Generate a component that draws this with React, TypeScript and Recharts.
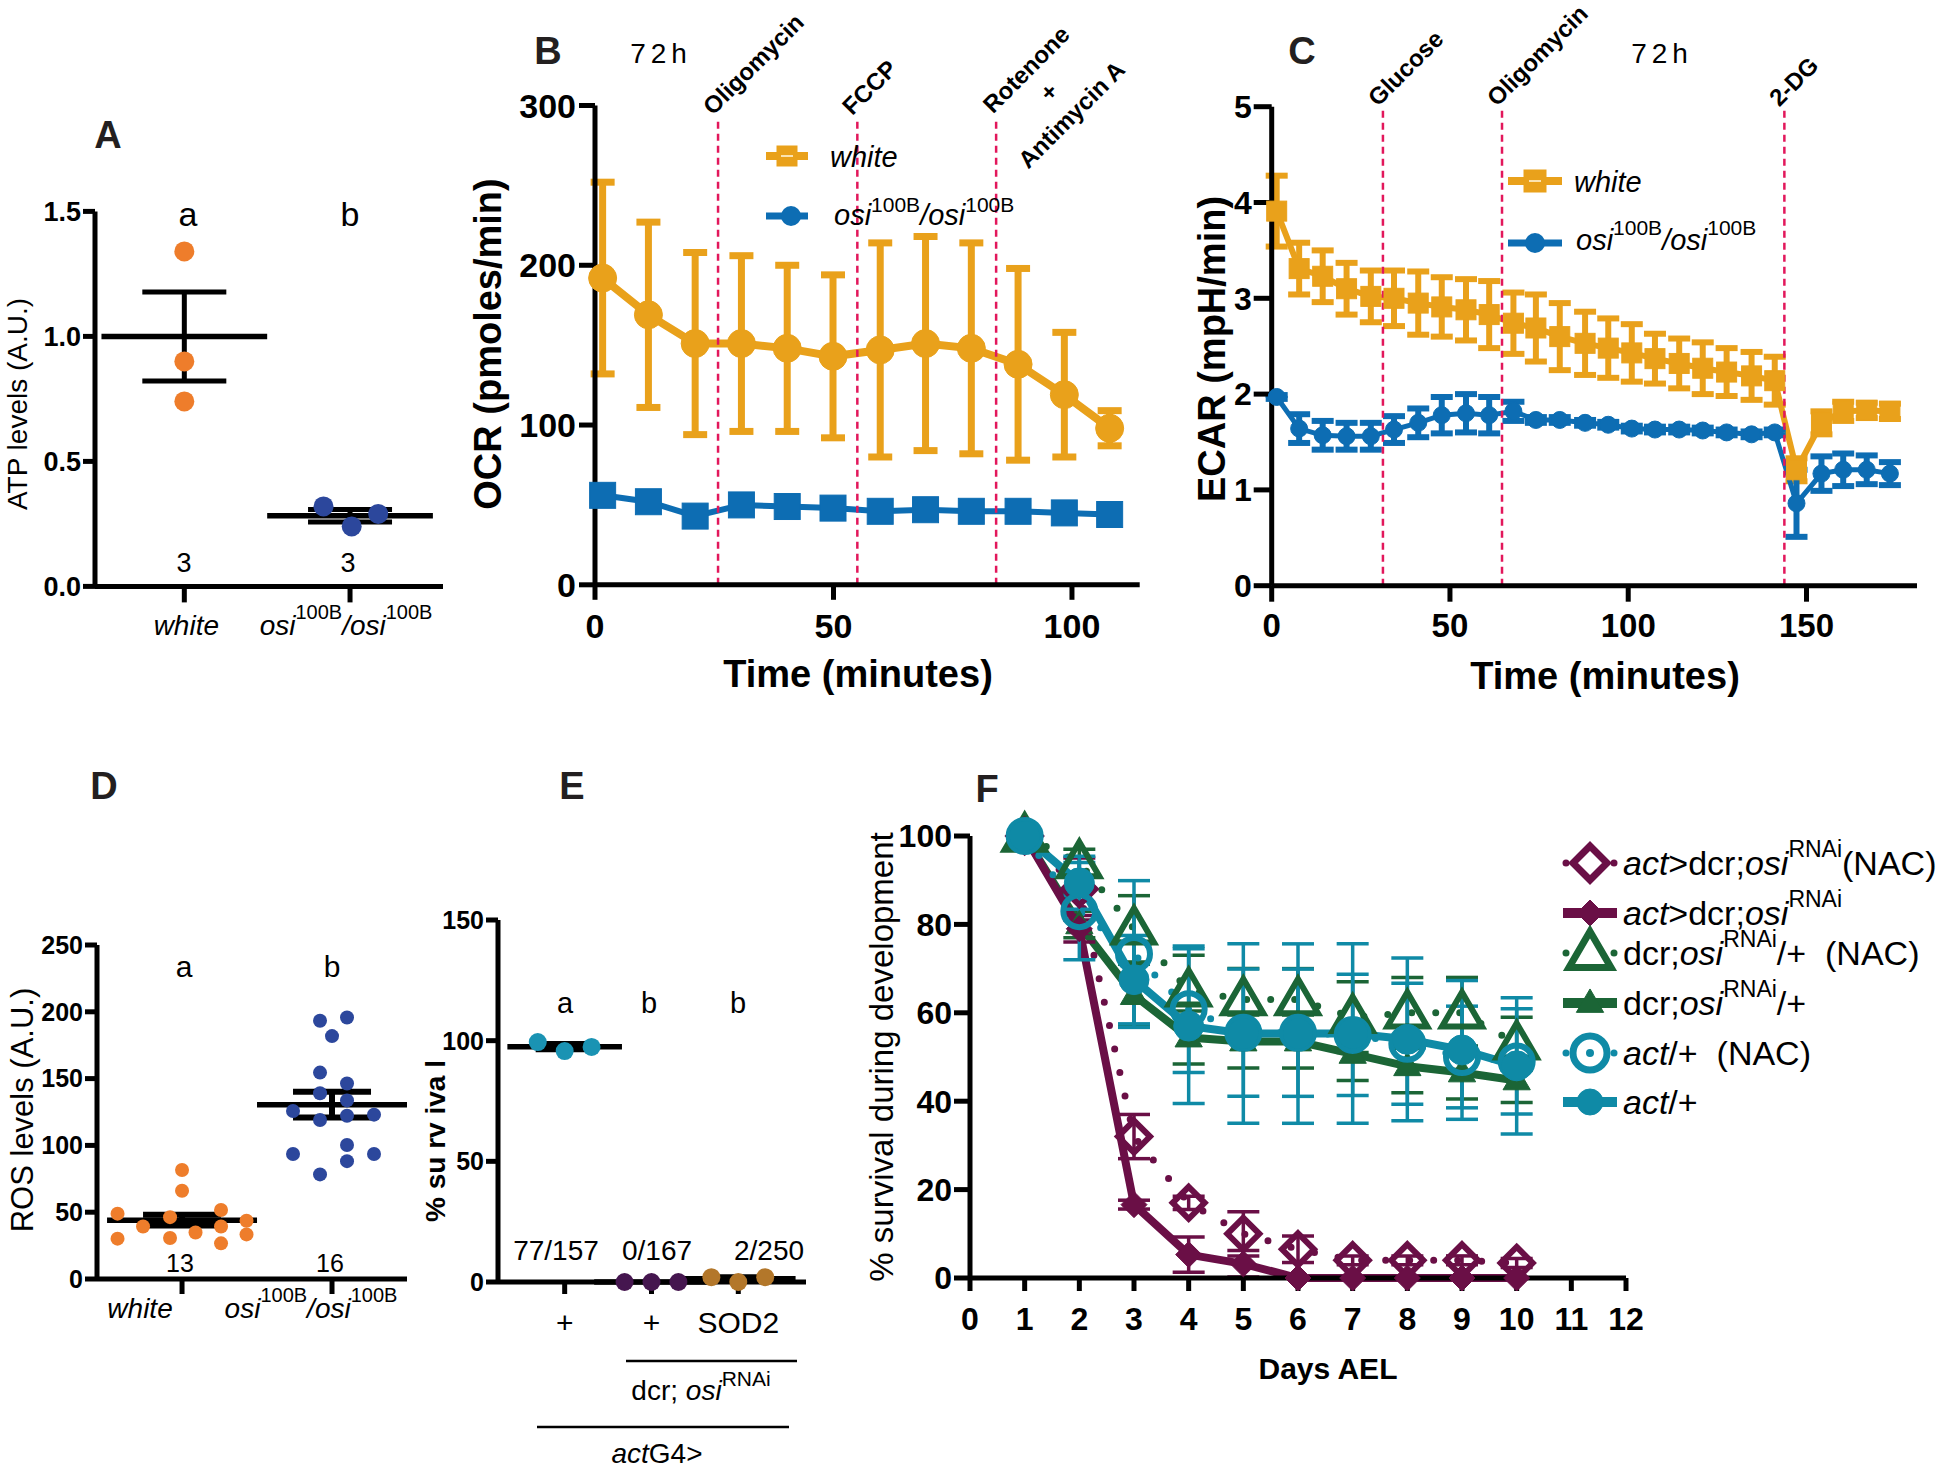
import React from 'react';
import { ComposedChart, XAxis, YAxis, Line, Scatter, ErrorBar, ReferenceLine } from 'recharts';

const FONT = '"Liberation Sans", Arial, Helvetica, sans-serif';
const NARROW = '"Liberation Sans Narrow", "Liberation Sans", Arial, sans-serif';
const INK = '#000';
const LETTER = '#231f20';
const ORANGE = '#ee7d2b';
const NAVY = '#2c479c';
const GOLD = '#e9a11b';
const BLUE = '#0d6db3';
const RED = '#e2175b';
const TEAL = '#0f8aa6';
const PLUM = '#6a0f46';
const GREEN = '#1b6536';
const SKY = '#1a93b3';
const GRAPE = '#45164f';
const BRONZE = '#b3772a';

// A: ATP levels
const atpCats = [1, 2];
const atpWhite = [1.34, 0.9, 0.74];
const atpOsi = [0.32, 0.24, 0.29];
const atpOsiJitter = [-0.16, 0.01, 0.17];
const atpMean = [1.0, 0.283];
const atpSem = [0.178, 0.025];
const atpLetters = ['a', 'b'];
const atpN = ['3', '3'];

// B: OCR
const ocrTime = [1.6, 11.2, 21.0, 30.7, 40.3, 49.9, 59.8, 69.3, 78.9, 88.7, 98.4, 107.9];
const ocrWhite = [192, 169, 151, 151, 148, 143, 147, 151, 148, 138, 119, 98];
const ocrWhiteSem = [60, 58, 57, 55, 52, 51, 67, 67, 66, 60, 39, 11];
const ocrOsi = [56, 52, 43, 50, 49, 48, 46, 47, 46, 46, 45, 44];
const ocrOsiSem = [4, 5, 4, 4, 4, 4, 4, 4, 4, 4, 4, 5];
const ocrInjections = [25.8, 55.0, 84.1];
const ocrInjectionLabels = [['Oligomycin'], ['FCCP'], ['Rotenone', '+', 'Antimycin A']];

// C: ECAR
const ecarTime = [1.4, 7.7, 14.3, 21.0, 27.8, 34.3, 41.1, 47.7, 54.5, 61.0, 67.8, 74.1, 80.8, 87.9, 94.4, 101.0, 107.5, 114.3, 120.9, 127.6, 134.6, 141.1, 147.2, 154.2, 160.3, 166.9, 173.4];
const ecarWhite = [3.91, 3.31, 3.23, 3.10, 3.02, 3.00, 2.95, 2.91, 2.88, 2.83, 2.74, 2.69, 2.60, 2.53, 2.48, 2.43, 2.37, 2.32, 2.27, 2.23, 2.19, 2.14, 1.21, 1.70, 1.82, 1.83, 1.82];
const ecarWhiteSem = [0.37, 0.27, 0.27, 0.27, 0.27, 0.29, 0.33, 0.31, 0.32, 0.35, 0.32, 0.35, 0.35, 0.33, 0.31, 0.30, 0.26, 0.26, 0.27, 0.25, 0.25, 0.25, 0.12, 0.12, 0.10, 0.08, 0.08];
const ecarOsi = [1.97, 1.64, 1.57, 1.56, 1.56, 1.63, 1.70, 1.78, 1.80, 1.78, 1.82, 1.73, 1.73, 1.70, 1.68, 1.64, 1.63, 1.63, 1.62, 1.60, 1.58, 1.60, 0.86, 1.17, 1.21, 1.21, 1.17];
const ecarOsiSem = [0.02, 0.15, 0.15, 0.14, 0.14, 0.14, 0.15, 0.19, 0.20, 0.19, 0.10, 0.03, 0.03, 0.03, 0.03, 0.03, 0.03, 0.03, 0.03, 0.03, 0.03, 0.03, 0.35, 0.18, 0.17, 0.15, 0.12];
const ecarInjections = [31.2, 64.6, 143.8];
const ecarInjectionLabels = [['Glucose'], ['Oligomycin'], ['2-DG']];

// D: ROS levels
const rosCats = [1, 2];
const rosWhite = [48.9, 30.2, 39.3, 46.3, 30.7, 81.6, 66.0, 34.8, 51.6, 39.3, 26.7, 43.6, 33.4];
const rosWhiteJitter = [-0.43, -0.43, -0.26, -0.08, -0.08, 0, 0, 0.09, 0.26, 0.26, 0.26, 0.43, 0.43];
const rosOsi = [193.3, 195.7, 181.8, 154.5, 146.3, 139.0, 133.7, 125.7, 119.0, 122.2, 123.0, 100.3, 93.6, 93.6, 88.2, 78.3];
const rosOsiJitter = [-0.08, 0.1, 0, -0.08, 0.1, -0.08, 0.1, -0.26, -0.08, 0.1, 0.28, 0.1, -0.26, 0.28, 0.1, -0.08];
const rosMean = [44.0, 130.5];
const rosSem = [4.0, 9.7];
const rosLetters = ['a', 'b'];
const rosN = ['13', '16'];

// E: % survival
const survCats = [1, 2, 3];
const survGroups = ['+', '+', 'SOD2'];
const survLetters = ['a', 'b', 'b'];
const survCounts = ['77/157', '0/167', '2/250'];
const survCtrl = [99.4, 95.7, 97.4];
const survRnai = [0, 0, 0];
const survSod2 = [2, 0, 2];
const survJitter = [-0.31, 0, 0.31];
const survMean = [97.5, 0, 1.3];
const survSem = [1.1, 0, 0.7];

// F: survival during development
const days = [1, 2, 3, 4, 5, 6, 7, 8, 9, 10];
const rnaiNac = [100, 88, 32, 17, 10, 6.5, 4, 4, 4, 3.4];
const rnaiNacSem = [0, 7, 5, 1.5, 5, 3, 1, 1, 1, 1];
const rnai = [100, 79, 16.6, 5.3, 3.2, 0, 0, 0, 0, 0];
const rnaiSem = [0, 3, 1, 4, 3, 0, 0, 0, 0, 0];
const ctrlNac = [100, 94, 79, 65, 63, 63, 59, 60, 60, 53];
const ctrlNacSem = [0, 3, 7.5, 8, 7, 7, 8, 8, 8, 6];
const ctrl = [100, 80, 64, 54.4, 53.5, 53.5, 50.7, 47.9, 46.5, 44.7];
const ctrlSem = [0, 3, 7, 6, 6, 6, 6, 6, 6, 5];
const actNac = [100, 83, 73.3, 60.8, 55.5, 55.5, 55, 53, 50, 49];
const actNacSem = [0, 11, 16.6, 14.3, 14.4, 14.4, 13.7, 13.7, 11.5, 11.9];
const act = [100, 89.4, 67.5, 57, 55.3, 55.3, 55.3, 54, 51.6, 48];
const actSem = [0, 6, 10, 17.5, 20.3, 20.3, 20.3, 18.4, 15.7, 15.4];

const genoLabels = [
  [['white', 'i']],
  [['osi', 'i'], ['100B', 's'], ['/osi', 'i'], ['100B', 's']],
];
const survLabelParts = survGroups.map((g) => [[g, 'r']]);

const fSeries = [
  { name: [['act', 'i'], ['>dcr;', 'r'], ['osi', 'i'], ['RNAi', 's'], ['(NAC)', 'r']], vals: rnaiNac, sem: rnaiNacSem, color: PLUM, kind: 'diamond', open: true },
  { name: [['act', 'i'], ['>dcr;', 'r'], ['osi', 'i'], ['RNAi', 's']], vals: rnai, sem: rnaiSem, color: PLUM, kind: 'diamond', open: false },
  { name: [['dcr;', 'r'], ['osi', 'i'], ['RNAi', 's'], ['/+\u00a0\u00a0(NAC)', 'r']], vals: ctrlNac, sem: ctrlNacSem, color: GREEN, kind: 'triangle', open: true },
  { name: [['dcr;', 'r'], ['osi', 'i'], ['RNAi', 's'], ['/+', 'r']], vals: ctrl, sem: ctrlSem, color: GREEN, kind: 'triangle', open: false },
  { name: [['act', 'i'], ['/+\u00a0\u00a0(NAC)', 'r']], vals: actNac, sem: actNacSem, color: TEAL, kind: 'circle', open: true },
  { name: [['act', 'i'], ['/+', 'r']], vals: act, sem: actSem, color: TEAL, kind: 'circle', open: false },
];
const fDrawOrder = [2, 3, 0, 1, 4, 5];

const axisLine = { stroke: INK, strokeWidth: 5 };
const tickLine = { stroke: INK, strokeWidth: 5 };
const tickFont = (size: number) => ({ fontSize: size, fontWeight: 700, fill: INK, fontFamily: FONT });

const pts = (cat: number, vals: number[], jit: number[]) => vals.map((v, i) => ({ x: cat + jit[i], y: v }));
const meanSeg = (cat: number, m: number, hw: number) => [{ x: cat - hw, y: m }, { x: cat + hw, y: m }];
const dotShape = (r: number, fill: string) => (p: any) => <circle cx={p.cx} cy={p.cy} r={r} fill={fill} />;
const noShape = () => <g />;

function Glyph({ kind, cx, cy, size, color, open, sw = 6 }: any) {
  const fill = open ? 'none' : color;
  const strokeWidth = open ? sw : 1;
  if (kind === 'circle') return <circle cx={cx} cy={cy} r={size} fill={fill} stroke={color} strokeWidth={strokeWidth} />;
  if (kind === 'square') return <rect x={cx - size} y={cy - size} width={2 * size} height={2 * size} fill={fill} stroke={color} strokeWidth={strokeWidth} />;
  if (kind === 'diamond') return <path d={`M${cx},${cy - size}L${cx + size},${cy}L${cx},${cy + size}L${cx - size},${cy}Z`} fill={fill} stroke={color} strokeWidth={strokeWidth} strokeLinejoin="miter" />;
  const h = size * 1.8;
  const w = size * 2.1;
  return <path d={`M${cx},${cy - h * 0.6}L${cx + w / 2},${cy + h * 0.4}L${cx - w / 2},${cy + h * 0.4}Z`} fill={fill} stroke={color} strokeWidth={strokeWidth} />;
}

const marker = (kind: string, color: string, size: number, open: boolean, sw = 6) => (p: any) => {
  const { cx, cy, index } = p;
  if (cx == null || cy == null) return <g key={`m${index}`} />;
  return <Glyph key={`m${index}`} kind={kind} cx={cx} cy={cy} size={size} color={color} open={open} sw={sw} />;
};

function Rich({ parts, x, y, size, supSize, supDy, anchor = 'start', narrowSup = false, weight = 400, transform }: any) {
  let up = false;
  return (
    <text x={x} y={y} fontSize={size} textAnchor={anchor} fontFamily={FONT} fontWeight={weight} fill={INK} transform={transform}>
      {parts.map(([t, k]: any, i: number) => {
        let dy = 0;
        if (k === 's' && !up) { dy = supDy; up = true; }
        else if (k !== 's' && up) { dy = -supDy; up = false; }
        return (
          <tspan key={i} dy={dy} fontStyle={k === 'i' ? 'italic' : 'normal'} fontSize={k === 's' ? supSize : size}
            fontFamily={k === 's' && narrowSup ? NARROW : FONT}>{t}</tspan>
        );
      })}
    </text>
  );
}

const CatTick = (props: any) => {
  const { x, index, baseY, dxs, labels, size, supSize, supDy } = props;
  const parts = labels[index];
  if (!parts) return null;
  return <Rich parts={parts} x={x + (dxs ? dxs[index] : 0)} y={baseY} size={size} supSize={supSize} supDy={supDy} anchor="middle" />;
};

const DrugLabel = (props: any) => {
  const { viewBox, lines } = props;
  if (!viewBox) return null;
  const multi = lines.length > 1;
  return (
    <g transform={`translate(${viewBox.x - 5},${viewBox.y - 2}) rotate(-45)`}>
      {lines.map((t: string, i: number) => (
        <text key={i} x={multi ? 58 : 0} y={i * 32} textAnchor={multi ? 'middle' : 'start'} fontFamily={FONT} fontWeight={700} fontSize={24} fill={INK}>{t}</text>
      ))}
    </g>
  );
};

function PanelA() {
  return (
    <div style={{ position: 'absolute', left: 0, top: 150 }}>
      <ComposedChart width={470} height={520} margin={{ top: 61.4, right: 27, bottom: 23.6, left: 25 }}>
        <XAxis type="number" dataKey="x" domain={[0.461, 2.561]} ticks={atpCats} interval={0} height={60} axisLine={axisLine} tickLine={tickLine} tickSize={16}
          tick={<CatTick labels={genoLabels} baseY={484.6} dxs={[2, -4]} size={28} supSize={20} supDy={-16} />} />
        <YAxis type="number" dataKey="y" domain={[0, 1.5]} ticks={[0, 0.5, 1, 1.5]} interval={0} width={70} axisLine={axisLine} tickLine={tickLine} tickSize={12} tickMargin={2}
          tick={tickFont(27)} tickFormatter={(v: number) => v.toFixed(1)} />
        {atpMean.map((m, i) => (
          <Line key={`mean${i}`} data={meanSeg(atpCats[i], m, 0.5)} dataKey="y" stroke={INK} strokeWidth={5.5} dot={false} activeDot={false} isAnimationActive={false} />
        ))}
        <Scatter data={atpMean.map((m, i) => ({ x: atpCats[i], y: m, e: atpSem[i] }))} shape={noShape} isAnimationActive={false}>
          <ErrorBar dataKey="e" direction="y" width={42} stroke={INK} strokeWidth={5} />
        </Scatter>
        <Scatter data={pts(atpCats[0], atpWhite, [0, 0, 0])} shape={dotShape(10, ORANGE)} isAnimationActive={false} />
        <Scatter data={pts(atpCats[1], atpOsi, atpOsiJitter)} shape={dotShape(10, NAVY)} isAnimationActive={false} />
      </ComposedChart>
    </div>
  );
}

function PanelB() {
  const white = ocrTime.map((t, i) => ({ x: t, y: ocrWhite[i], e: ocrWhiteSem[i] }));
  const osi = ocrTime.map((t, i) => ({ x: t, y: ocrOsi[i], e: ocrOsiSem[i] }));
  return (
    <div style={{ position: 'absolute', left: 475, top: 0 }}>
      <ComposedChart width={680} height={700} margin={{ top: 105.5, right: 15.3, bottom: 55.2, left: 40 }}>
        <XAxis type="number" dataKey="x" domain={[0, 114.2]} ticks={[0, 50, 100]} interval={0} height={60} axisLine={axisLine} tickLine={tickLine} tickSize={15} tickMargin={14} tick={tickFont(34)} />
        <YAxis type="number" dataKey="y" domain={[0, 300]} ticks={[0, 100, 200, 300]} interval={0} width={80} axisLine={axisLine} tickLine={tickLine} tickSize={16} tickMargin={3} tick={tickFont(34)} />
        <Line data={osi} dataKey="y" stroke={BLUE} strokeWidth={6} dot={marker('square', BLUE, 13, false)} activeDot={false} isAnimationActive={false}>
          <ErrorBar dataKey="e" direction="y" width={10} stroke={BLUE} strokeWidth={5} />
        </Line>
        <Line data={white} dataKey="y" stroke={GOLD} strokeWidth={8} dot={marker('circle', GOLD, 14, false)} activeDot={false} isAnimationActive={false}>
          <ErrorBar dataKey="e" direction="y" width={12} stroke={GOLD} strokeWidth={7} />
        </Line>
        {ocrInjections.map((t, i) => (
          <ReferenceLine key={`inj${i}`} segment={[{ x: t, y: 0 }, { x: t, y: 292 }]} stroke={RED} strokeWidth={2.5} strokeDasharray="7 5"
            label={<DrugLabel lines={ocrInjectionLabels[i]} />} />
        ))}
      </ComposedChart>
    </div>
  );
}

function PanelC() {
  const white = ecarTime.map((t, i) => ({ x: t, y: ecarWhite[i], e: ecarWhiteSem[i] }));
  const osi = ecarTime.map((t, i) => ({ x: t, y: ecarOsi[i], e: ecarOsiSem[i] }));
  return (
    <div style={{ position: 'absolute', left: 1150, top: 0 }}>
      <ComposedChart width={790} height={700} margin={{ top: 106.7, right: 23, bottom: 54.3, left: 41.7 }}>
        <XAxis type="number" dataKey="x" domain={[0, 181]} ticks={[0, 50, 100, 150]} interval={0} height={60} axisLine={axisLine} tickLine={tickLine} tickSize={16} tickMargin={12} tick={tickFont(33)} />
        <YAxis type="number" dataKey="y" domain={[0, 5]} ticks={[0, 1, 2, 3, 4, 5]} interval={0} width={80} axisLine={axisLine} tickLine={tickLine} tickSize={18} tickMargin={2} tick={tickFont(32)} />
        <Line data={white} dataKey="y" stroke={GOLD} strokeWidth={6} dot={marker('square', GOLD, 10, false)} activeDot={false} isAnimationActive={false}>
          <ErrorBar dataKey="e" direction="y" width={11} stroke={GOLD} strokeWidth={6} />
        </Line>
        <Line data={osi} dataKey="y" stroke={BLUE} strokeWidth={5} dot={marker('circle', BLUE, 8.5, false)} activeDot={false} isAnimationActive={false}>
          <ErrorBar dataKey="e" direction="y" width={11} stroke={BLUE} strokeWidth={6} />
        </Line>
        {ecarInjections.map((t, i) => (
          <ReferenceLine key={`inj${i}`} segment={[{ x: t, y: 0 }, { x: t, y: 4.97 }]} stroke={RED} strokeWidth={2.5} strokeDasharray="7 5"
            label={<DrugLabel lines={ecarInjectionLabels[i]} />} />
        ))}
      </ComposedChart>
    </div>
  );
}

function PanelD() {
  return (
    <div style={{ position: 'absolute', left: 0, top: 900 }}>
      <ComposedChart width={440} height={440} margin={{ top: 45, right: 33, bottom: 11, left: 27 }}>
        <XAxis type="number" dataKey="x" domain={[0.433, 2.5]} ticks={rosCats} interval={0} height={50} axisLine={axisLine} tickLine={tickLine} tickSize={15}
          tick={<CatTick labels={genoLabels} baseY={418} dxs={[-42, -21]} size={28} supSize={20} supDy={-16} />} />
        <YAxis type="number" dataKey="y" domain={[0, 250]} ticks={[0, 50, 100, 150, 200, 250]} interval={0} width={70} axisLine={axisLine} tickLine={tickLine} tickSize={12} tickMargin={2} tick={tickFont(25)} />
        {rosMean.map((m, i) => (
          <Line key={`mean${i}`} data={meanSeg(rosCats[i], m, 0.5)} dataKey="y" stroke={INK} strokeWidth={5.5} dot={false} activeDot={false} isAnimationActive={false} />
        ))}
        <Scatter data={rosMean.map((m, i) => ({ x: rosCats[i], y: m, e: rosSem[i] }))} shape={noShape} isAnimationActive={false}>
          <ErrorBar dataKey="e" direction="y" width={39} stroke={INK} strokeWidth={6} />
        </Scatter>
        <Scatter data={pts(rosCats[0], rosWhite, rosWhiteJitter)} shape={dotShape(7, ORANGE)} isAnimationActive={false} />
        <Scatter data={pts(rosCats[1], rosOsi, rosOsiJitter)} shape={dotShape(7, NAVY)} isAnimationActive={false} />
      </ComposedChart>
    </div>
  );
}

function PanelE() {
  const sets = [survCtrl, survRnai, survSod2];
  const colors = [SKY, GRAPE, BRONZE];
  return (
    <div style={{ position: 'absolute', left: 420, top: 880 }}>
      <ComposedChart width={400} height={480} margin={{ top: 40, right: 14, bottom: 18, left: 18 }}>
        <XAxis type="number" dataKey="x" domain={[0.232, 3.78]} ticks={survCats} interval={0} height={60} axisLine={axisLine} tickLine={tickLine} tickSize={12}
          tick={<CatTick labels={survLabelParts} baseY={453} size={30} supSize={20} supDy={-14} />} />
        <YAxis type="number" dataKey="y" domain={[0, 150]} ticks={[0, 50, 100, 150]} interval={0} width={60} axisLine={axisLine} tickLine={tickLine} tickSize={12} tickMargin={2} tick={tickFont(25)} />
        {survMean.map((m, i) => (
          <Line key={`mean${i}`} data={meanSeg(survCats[i], m, 0.66)} dataKey="y" stroke={INK} strokeWidth={5.5} dot={false} activeDot={false} isAnimationActive={false} />
        ))}
        <Scatter data={survMean.map((m, i) => ({ x: survCats[i], y: m, e: survSem[i] }))} shape={noShape} isAnimationActive={false}>
          <ErrorBar dataKey="e" direction="y" width={29} stroke={INK} strokeWidth={6} />
        </Scatter>
        {sets.map((s, i) => (
          <Scatter key={`grp${i}`} data={pts(survCats[i], s, survJitter)} shape={dotShape(9, colors[i])} isAnimationActive={false} />
        ))}
      </ComposedChart>
    </div>
  );
}

function PanelF() {
  return (
    <div style={{ position: 'absolute', left: 860, top: 790 }}>
      <ComposedChart width={800} height={620} margin={{ top: 46, right: 34, bottom: 72, left: 30 }}>
        <XAxis type="number" dataKey="x" domain={[0, 12]} ticks={[0, 1, 2, 3, 4, 5, 6, 7, 8, 9, 10, 11, 12]} interval={0} height={60} axisLine={axisLine} tickLine={tickLine} tickSize={13} tickMargin={16} tick={tickFont(32)} />
        <YAxis type="number" dataKey="y" domain={[0, 100]} ticks={[0, 20, 40, 60, 80, 100]} interval={0} width={80} axisLine={axisLine} tickLine={tickLine} tickSize={16} tickMargin={2} tick={tickFont(32)} />
        {fDrawOrder.map((k) => {
          const s = fSeries[k];
          const data = days.map((d, i) => ({ x: d, y: s.vals[i], e: s.sem[i] }));
          return (
            <Line key={`f${k}`} data={data} dataKey="y" stroke={s.color} strokeWidth={s.open ? 7 : 8}
              strokeDasharray={s.open ? '0 24' : undefined} strokeLinecap="round"
              dot={marker(s.kind, s.color, s.open ? (s.kind === 'triangle' ? 19 : 16) : (s.kind === 'circle' ? 15 : 13), s.open, 6)}
              activeDot={false} isAnimationActive={false}>
              <ErrorBar dataKey="e" direction="y" width={16} stroke={s.color} strokeWidth={3.5} />
            </Line>
          );
        })}
      </ComposedChart>
    </div>
  );
}

const panelLetters = [
  { t: 'A', x: 108, y: 135 }, { t: 'B', x: 548, y: 51 }, { t: 'C', x: 1302, y: 51 },
  { t: 'D', x: 104, y: 786 }, { t: 'E', x: 572, y: 786 }, { t: 'F', x: 987, y: 789 },
];
const osiParts = [['osi', 'i'], ['100B', 's'], ['/osi', 'i'], ['100B', 's']];

function Overlay() {
  const fRows = [863, 913, 953, 1003, 1053, 1102];
  return (
    <svg width={1944} height={1472} style={{ position: 'absolute', left: 0, top: 0, pointerEvents: 'none' }} fontFamily={FONT}>
      {panelLetters.map((p) => (
        <text key={p.t} x={p.x} y={p.y} textAnchor="middle" dominantBaseline="central" fontSize={38} fontWeight={700} fill={LETTER}>{p.t}</text>
      ))}

      {/* A */}
      <text transform="translate(17.5,404) rotate(-90)" textAnchor="middle" dominantBaseline="central" fontSize={28} fill={INK}>ATP levels (A.U.)</text>
      {atpLetters.map((l, i) => <text key={`al${i}`} x={[188, 350][i]} y={226} textAnchor="middle" fontSize={34} fill={INK}>{l}</text>)}
      {atpN.map((l, i) => <text key={`an${i}`} x={[184, 348][i]} y={572} textAnchor="middle" fontSize={27} fill={INK}>{l}</text>)}

      {/* B */}
      <text x={661} y={53} textAnchor="middle" dominantBaseline="central" fontSize={28} letterSpacing={5} fill={INK}>72h</text>
      <text transform="translate(488,344) rotate(-90)" textAnchor="middle" dominantBaseline="central" fontSize={38} fontWeight={700} fill={INK}>OCR (pmoles/min)</text>
      <text x={858} y={674} textAnchor="middle" dominantBaseline="central" fontSize={38} fontWeight={700} fill={INK}>Time (minutes)</text>
      <line x1={766} y1={156} x2={808} y2={156} stroke={GOLD} strokeWidth={8} />
      <Glyph kind="square" cx={787} cy={156} size={10} color={GOLD} open={false} />
      <line x1={781} y1={156} x2={793} y2={156} stroke="#fbe3b0" strokeWidth={2} />
      <text x={830} y={167} fontSize={29} fontStyle="italic" fill={INK}>white</text>
      <line x1={766} y1={216} x2={808} y2={216} stroke={BLUE} strokeWidth={7} />
      <circle cx={791} cy={216} r={10} fill={BLUE} />
      <Rich parts={osiParts} x={834} y={225} size={29} supSize={21} supDy={-13} />

      {/* C */}
      <text x={1662} y={53} textAnchor="middle" dominantBaseline="central" fontSize={28} letterSpacing={5} fill={INK}>72h</text>
      <text transform="translate(1212,349) rotate(-90)" textAnchor="middle" dominantBaseline="central" fontSize={38} fontWeight={700} fill={INK}>ECAR (mpH/min)</text>
      <text x={1605} y={676} textAnchor="middle" dominantBaseline="central" fontSize={38} fontWeight={700} fill={INK}>Time (minutes)</text>
      <line x1={1508} y1={181} x2={1562} y2={181} stroke={GOLD} strokeWidth={8} />
      <Glyph kind="square" cx={1535} cy={181} size={11} color={GOLD} open={false} />
      <line x1={1529} y1={181} x2={1541} y2={181} stroke="#fbe3b0" strokeWidth={2} />
      <text x={1574} y={192} fontSize={29} fontStyle="italic" fill={INK}>white</text>
      <line x1={1508} y1={243} x2={1562} y2={243} stroke={BLUE} strokeWidth={7} />
      <circle cx={1535} cy={243} r={10} fill={BLUE} />
      <Rich parts={osiParts} x={1576} y={250} size={29} supSize={21} supDy={-15} />

      {/* D */}
      <text transform="translate(22,1110) rotate(-90)" textAnchor="middle" dominantBaseline="central" fontSize={31} fill={INK}>ROS levels (A.U.)</text>
      {rosLetters.map((l, i) => <text key={`dl${i}`} x={[184, 332][i]} y={977} textAnchor="middle" fontSize={30} fill={INK}>{l}</text>)}
      {rosN.map((l, i) => <text key={`dn${i}`} x={[180, 330][i]} y={1272} textAnchor="middle" fontSize={25} fill={INK}>{l}</text>)}

      {/* E */}
      <text transform="translate(435,1141) rotate(-90)" textAnchor="middle" dominantBaseline="central" fontSize={28} fontWeight={700} fill={INK}>% su rv iva l</text>
      {survLetters.map((l, i) => <text key={`el${i}`} x={[565, 649, 738][i]} y={1013} textAnchor="middle" fontSize={29} fill={INK}>{l}</text>)}
      {survCounts.map((l, i) => <text key={`ec${i}`} x={[556, 657, 769][i]} y={1260} textAnchor="middle" fontSize={28} fill={INK}>{l}</text>)}
      <line x1={626} y1={1361} x2={797} y2={1361} stroke={INK} strokeWidth={2.5} />
      <Rich parts={[['dcr; ', 'r'], ['osi', 'i'], ['RNAi', 's']]} x={701} y={1400} size={28} supSize={21} supDy={-14} anchor="middle" />
      <line x1={537} y1={1427} x2={789} y2={1427} stroke={INK} strokeWidth={2.5} />
      <Rich parts={[['act', 'i'], ['G4>', 'r']]} x={657} y={1463} size={28} supSize={20} supDy={-14} anchor="middle" />

      {/* F */}
      <text transform="translate(881,1057) rotate(-90)" textAnchor="middle" dominantBaseline="central" fontSize={33} fill={INK}>% survival during development</text>
      <text x={1328} y={1368} textAnchor="middle" dominantBaseline="central" fontSize={30} fontWeight={700} fill={INK}>Days AEL</text>
      {fSeries.map((s, i) => {
        const cy = fRows[i];
        return (
          <g key={`leg${i}`}>
            {s.open ? (
              <g>
                <circle cx={1566} cy={cy} r={3.5} fill={s.color} />
                <circle cx={1614} cy={cy} r={3.5} fill={s.color} />
                {s.kind === 'circle' && <circle cx={1590} cy={cy} r={4} fill={s.color} />}
              </g>
            ) : (
              <line x1={1563} y1={cy} x2={1617} y2={cy} stroke={s.color} strokeWidth={10} />
            )}
            <Glyph kind={s.kind} cx={1590} cy={cy} size={s.open ? (s.kind === 'triangle' ? 20 : 17) : 13} color={s.color} open={s.open} sw={7} />
            <Rich parts={s.name} x={1623} y={cy + 12} size={34} supSize={23} supDy={-18} narrowSup />
          </g>
        );
      })}
    </svg>
  );
}

export default function App() {
  return (
    <div style={{ position: 'absolute', left: 0, top: 0, width: 1944, height: 1472, background: '#fff', overflow: 'hidden', fontFamily: FONT }}>
      <PanelA />
      <PanelB />
      <PanelC />
      <PanelD />
      <PanelE />
      <PanelF />
      <Overlay />
    </div>
  );
}
